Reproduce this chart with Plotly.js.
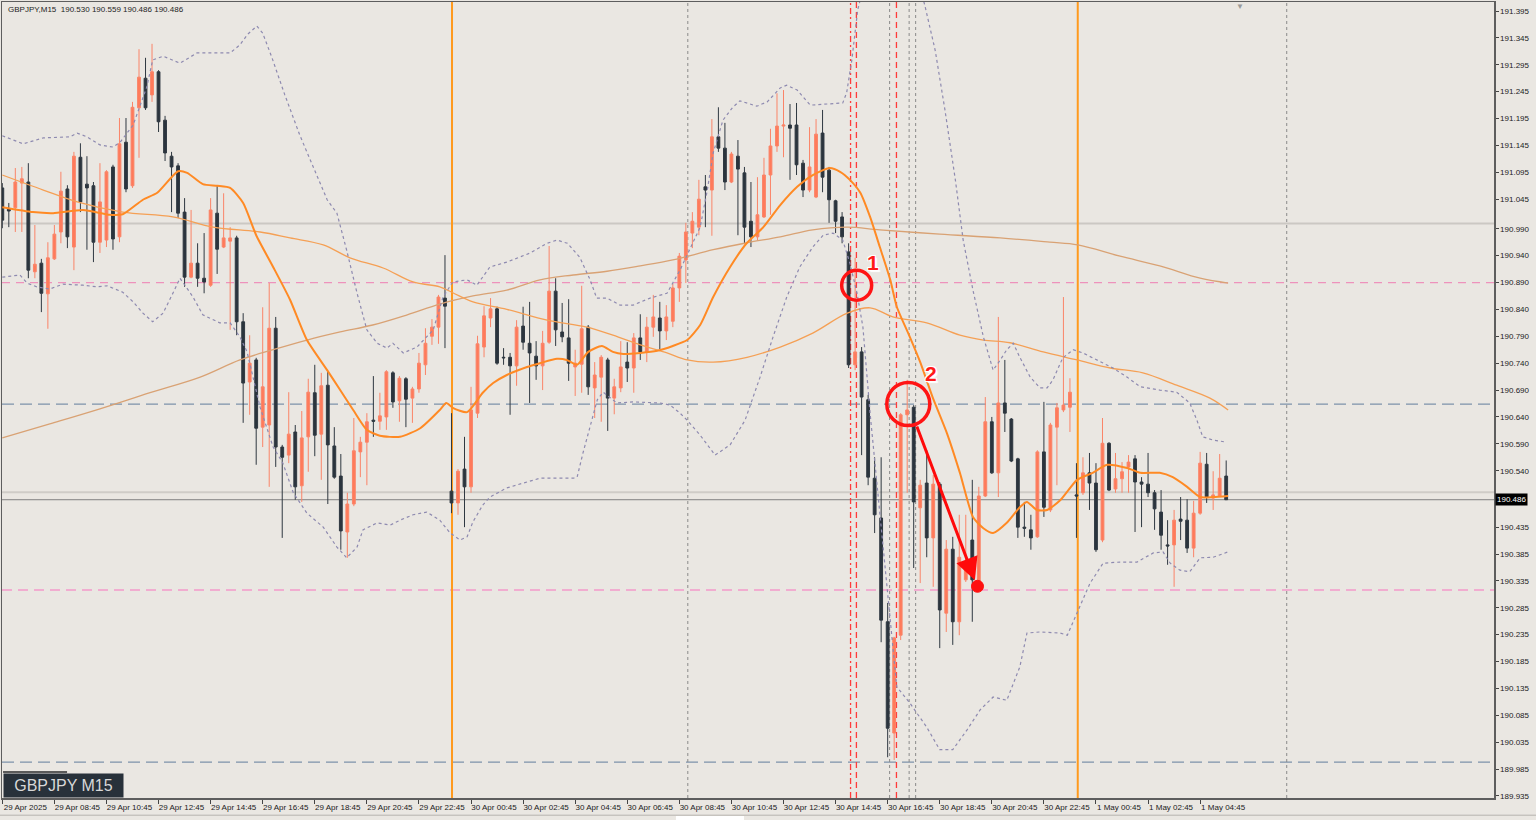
<!DOCTYPE html>
<html>
<head>
<meta charset="utf-8">
<script src="https://cdn.plot.ly/plotly-3.0.1.min.js"></script>
<style>
html,body{margin:0;padding:0;background:#EAE7E2;}
#chart{width:1536px;height:820px;}
</style>
</head>
<body>
<div id="chart"></div>
<script>
// ---- Data (GBPJPY M15) ----
const symbol = "GBPJPY";
const period = "M15";

const open = [
191.066,191.027,191.029,191.075,191.077,190.910,190.926,190.869,190.934,190.984,
191.064,190.956,191.123,191.073,191.070,190.965,190.969,191.105,190.975,191.151,
191.070,191.215,191.270,191.239,191.282,191.192,191.125,191.107,191.021,190.900,
190.926,190.898,190.885,191.019,190.956,190.967,190.973,190.817,190.705,190.746,
190.621,190.625,190.805,190.584,190.569,190.612,190.512,190.603,190.685,190.608,
190.699,190.586,190.530,190.426,190.478,190.575,190.593,190.634,190.632,190.640,
190.722,190.670,190.711,190.675,190.692,190.737,190.790,190.807,190.861,190.502,
190.480,190.543,190.510,190.647,190.770,190.824,190.841,190.751,190.751,190.735,
190.809,190.777,190.753,190.735,190.779,190.874,190.798,190.787,190.733,190.738,
190.807,190.694,190.714,190.746,190.675,190.694,190.742,190.731,190.787,190.761,
190.807,190.824,190.800,190.818,190.880,190.932,190.982,190.993,191.068,191.062,
191.161,191.140,191.077,191.125,191.094,191.004,190.975,191.012,191.090,191.144,
191.181,191.183,191.183,191.112,191.062,191.049,191.168,191.099,191.042,191.012,
190.947,190.737,190.761,190.672,190.526,190.452,190.259,190.052,190.234,190.644,
190.658,190.471,190.517,190.415,190.515,190.275,190.394,190.259,190.337,190.411,
190.324,190.493,190.631,190.536,190.666,190.636,190.562,190.435,190.430,190.417,
190.575,190.467,190.621,190.653,190.658,190.495,190.499,190.536,190.517,190.411,
190.591,190.506,190.525,190.547,190.562,190.519,190.515,190.499,190.463,190.402,
190.402,190.450,190.448,190.396,190.461,190.552,190.489,190.493,190.530];

const high = [
191.075,191.038,191.103,191.105,191.112,190.997,190.934,190.965,190.997,191.096,
191.071,191.133,191.149,191.125,191.077,191.112,191.099,191.109,191.196,191.196,
191.226,191.324,191.308,191.334,191.285,191.200,191.133,191.112,191.047,191.025,
190.963,190.982,191.047,191.070,191.056,190.993,190.977,190.833,190.792,190.750,
190.844,190.889,190.826,190.588,190.686,190.625,190.651,190.711,190.737,190.722,
190.724,190.621,190.571,190.499,190.638,190.603,190.647,190.716,190.685,190.727,
190.725,190.716,190.714,190.696,190.759,190.805,190.822,190.867,190.941,190.647,
190.543,190.603,190.696,190.791,190.846,190.861,190.845,190.768,190.759,190.820,
190.845,190.854,190.781,190.800,190.958,190.898,190.852,190.859,190.765,190.884,
190.811,190.742,190.755,190.750,190.711,190.781,190.779,190.796,190.831,190.826,
190.867,190.854,190.848,190.889,190.945,191.001,191.021,191.081,191.090,191.194,
191.216,191.187,191.133,191.155,191.105,191.077,191.086,191.122,191.176,191.242,
191.248,191.222,191.224,191.118,191.179,191.194,191.211,191.105,191.044,191.021,
190.963,190.936,190.770,190.681,190.565,190.565,190.294,190.231,190.647,190.709,
190.662,190.523,190.578,190.532,190.519,190.411,190.417,190.458,190.458,190.523,
190.510,190.677,190.640,190.826,190.746,190.638,190.564,190.482,190.458,190.578,
190.668,190.629,190.666,190.863,190.712,190.554,190.565,190.573,190.554,190.638,
190.593,190.573,190.556,190.569,190.569,190.528,190.573,190.504,190.504,190.448,
190.467,190.491,190.487,190.484,190.575,190.573,190.539,190.571,190.559];

const low = [
190.991,190.993,190.984,190.984,190.898,190.898,190.835,190.804,190.932,190.963,
190.954,190.913,191.021,190.951,190.928,190.945,190.956,190.951,190.965,191.058,
191.066,191.122,191.211,191.226,191.170,191.116,191.021,191.010,190.882,190.898,
190.882,190.870,190.882,190.906,190.954,190.802,190.792,190.629,190.644,190.551,
190.584,190.510,190.547,190.415,190.554,190.486,190.482,190.538,190.567,190.523,
190.478,190.525,190.393,190.378,190.474,190.528,190.513,190.603,190.616,190.616,
190.657,190.631,190.621,190.629,190.685,190.718,190.774,190.776,190.768,190.461,
190.458,190.435,190.499,190.638,190.751,190.807,190.737,190.737,190.644,190.698,
190.765,190.666,190.709,190.690,190.776,190.772,190.779,190.707,190.679,190.685,
190.681,190.638,190.631,190.614,190.645,190.686,190.705,190.685,190.746,190.742,
190.789,190.766,190.783,190.807,190.854,190.889,190.954,190.978,190.993,190.977,
191.133,191.062,191.075,190.978,190.963,190.956,190.969,191.010,191.016,191.133,
191.123,191.081,191.090,191.049,191.058,191.047,191.058,191.001,190.982,190.963,
190.731,190.727,190.569,190.513,190.424,190.221,190.007,190.002,190.225,190.499,
190.359,190.331,190.379,190.324,190.210,190.240,190.216,190.234,190.333,190.259,
190.322,190.491,190.534,190.491,190.612,190.556,190.415,190.417,190.393,190.415,
190.454,190.463,190.513,190.649,190.612,190.415,190.495,190.467,190.389,190.407,
190.502,190.499,190.499,190.499,190.426,190.435,190.491,190.430,190.393,190.365,
190.324,190.411,190.387,190.379,190.458,190.480,190.467,190.491,190.486];

const close = [
191.006,191.023,191.077,191.083,190.913,190.924,190.870,190.936,190.980,191.060,
190.975,191.125,191.040,191.066,190.965,191.040,191.096,190.971,191.148,191.064,
191.216,191.272,191.215,191.282,191.189,191.131,191.105,191.019,190.900,190.926,
190.898,190.891,191.025,190.952,190.973,190.973,190.817,190.703,190.740,190.619,
190.696,190.805,190.584,190.565,190.608,190.510,190.601,190.686,190.606,190.698,
190.588,190.528,190.428,190.478,190.577,190.593,190.631,190.632,190.642,190.724,
190.668,190.712,190.673,190.692,190.740,190.777,190.807,190.863,190.846,190.480,
190.539,190.510,190.653,190.776,190.828,190.841,190.740,190.750,190.735,190.807,
190.779,190.759,190.735,190.777,190.874,190.802,190.789,190.740,190.740,190.804,
190.696,190.718,190.751,190.675,190.696,190.733,190.731,190.787,190.761,190.807,
190.826,190.800,190.826,190.880,190.939,190.984,191.004,191.045,191.062,191.161,
191.140,191.077,191.129,191.101,190.993,190.975,191.016,191.090,191.144,191.181,
191.183,191.177,191.109,191.062,191.105,191.166,191.086,191.044,191.004,190.975,
190.737,190.761,190.677,190.528,190.458,190.262,190.061,190.229,190.644,190.653,
190.482,190.513,190.415,190.515,190.281,190.394,190.259,190.379,190.365,190.337,
190.493,190.631,190.536,190.666,190.647,190.558,190.435,190.433,190.415,190.575,
190.472,190.625,190.657,190.662,190.686,190.493,190.536,190.517,190.393,190.591,
190.504,190.525,190.538,190.556,190.519,190.515,190.499,190.469,190.420,190.400,
190.448,190.446,190.396,190.461,190.554,190.491,190.495,190.526,190.486];

// Indicator lines, sampled along the bar index
const ma20X = [0,4.7,7.8,12.4,16.5,18.5,21.6,23.8,27,28.4,30.8,33,35,37,39,41.6,44.2,46.8,49.9,51.9,53.9,56,58,61.1,64.2,67.2,68.2,69.2,71.4,73.8,75.4,77.5,80.6,82.6,85.2,86.7,88.3,90,92.1,93.8,95.4,98,100.6,103,105.2,107.2,109.2,111.8,114.4,116.9,119.5,122.1,124.5,127.1,128.7,130.2,131.8,133.3,134.8,136.4,137.4,139.4,141,142.9,145.1,147.1,149.1,150.7,152.2,154.3,156.3,157.4,158.9,160.5,162.5,165.1,167.5,169.7,172.8,174.8,177.8,179.8,182,184,186,188.3];
const ma20Y = [191.030,191.021,191.019,191.025,191.016,191.017,191.044,191.057,191.097,191.094,191.073,191.070,191.066,191.038,190.978,190.919,190.858,190.783,190.727,190.690,190.653,190.616,190.605,190.603,190.619,190.653,190.666,190.657,190.649,190.685,190.703,190.718,190.733,190.740,190.748,190.746,190.737,190.761,190.772,190.761,190.757,190.759,190.763,190.772,190.783,190.811,190.863,190.919,190.964,190.993,191.034,191.068,191.090,191.103,191.096,191.081,191.057,191.012,190.956,190.895,190.845,190.789,190.742,190.677,190.610,190.536,190.454,190.433,190.424,190.443,190.472,190.482,190.467,190.467,190.485,190.523,190.536,190.551,190.545,190.536,190.536,190.528,190.510,190.491,190.491,190.493];

const ma75X = [0,6.3,11.5,18.5,26.2,32.4,39.6,44.2,49.3,53.4,58.5,63.1,67.2,69.2,72.3,77.5,83.7,89.8,93.8,98,102.1,105.2,109.2,114.4,119.5,124.5,129.8,133.3,136.8,142,147.1,150.7,154.8,159.9,165.1,170.2,175.2,180.4,185.5,188.3];
const ma75Y = [191.090,191.062,191.040,191.021,191.012,190.993,190.984,190.973,190.960,190.936,190.917,190.891,190.882,190.871,190.854,190.840,190.820,190.807,190.792,190.774,190.759,190.746,190.742,190.751,190.770,190.796,190.833,190.843,190.826,190.815,190.792,190.783,190.778,190.761,190.746,190.731,190.722,190.699,190.675,190.653];

const ma200X = [0,7.3,15,22.7,30.4,36.5,41.6,46.8,51.9,56.9,62.2,67.2,72.3,77.5,82.6,87.7,92.9,98,103,109.2,114.4,119.5,124.5,129.8,134.8,144,153.3,160.9,165.2,171.7,177.8,184,188.3];
const ma200Y = [190.601,190.627,190.655,190.685,190.714,190.746,190.765,190.783,190.798,190.811,190.830,190.850,190.865,190.876,190.895,190.904,190.911,190.921,190.932,190.951,190.964,190.975,190.988,190.993,190.988,190.980,190.973,190.965,190.960,190.939,190.921,190.898,190.889];

const bbUpX = [0,3.2,6.3,10.4,11.5,13,15,17,18.1,20.1,22.2,23.1,24.7,27.3,29.9,35,36.5,37.7,39.1,40,41.4,43.4,45.7,48,49.9,51.4,52.9,54.5,56,57.6,59.1,60,61.6,63.7,66.2,67.7,69.2,71.4,72.9,74.9,77.5,81.1,83.7,85.2,86.8,88.7,90.3,91.3,92.9,94.9,96.9,99.5,102.1,104.1,105.3,107.2,108.3,109.2,110.7,112.2,113.3,115.9,117.5,119.5,120.5,122.1,124.1,126.1,129.1,129.7,130.5,131.4,133.3,136.4,139.4,141.7,143.3,144.8,146.4,147.6,149.1,150.7,152.2,153.3,154.3,155.3,156.3,157.9,159.4,160.5,161.4,162.9,164.5,166,168.2,170.6,172.8,174.8,177.8,180.4,182.4,183.5,184.4,186,188.1];
const bbUpY = [191.163,191.148,191.159,191.161,191.168,191.161,191.146,191.142,191.151,191.183,191.254,191.304,191.311,191.298,191.317,191.317,191.332,191.352,191.367,191.354,191.309,191.239,191.164,191.099,191.044,191.019,190.950,190.870,190.802,190.777,190.768,190.777,190.759,190.770,190.802,190.863,190.891,190.895,190.885,190.919,190.928,190.945,190.963,190.969,190.963,190.937,190.895,190.861,190.861,190.848,190.848,190.861,190.870,190.913,190.945,190.993,191.062,191.131,191.192,191.216,191.228,191.218,191.226,191.252,191.257,191.248,191.220,191.222,191.224,191.243,191.304,191.397,191.490,191.546,191.508,191.406,191.322,191.211,191.081,190.969,190.876,190.789,190.727,190.746,190.765,190.777,190.751,190.714,190.694,190.694,190.709,190.750,190.765,190.759,190.746,190.731,190.714,190.696,190.690,190.686,190.666,190.634,190.603,190.597,190.593];

const bbLoX = [0,2.7,3.8,5.3,7.3,9.3,12.4,14.5,16.1,18.5,20.1,21.6,23.1,24.7,26.2,27.3,29.3,30.8,33.4,35,36.5,37.6,39.6,41.6,43.1,44.7,46.8,49.3,51.4,52.9,54.5,55.4,57.6,59.6,61.1,63.1,65.2,67.2,68.8,70.3,71.4,72.3,73.8,74.9,77.5,80,82.6,87.7,88.3,89.2,90.3,91.4,92.3,94.4,96.9,101,102.6,104.1,105.2,107.2,109.5,111.8,114.1,116.4,118.4,120.5,122.5,124.5,126.1,127.6,129.1,130.2,131.3,132.2,133.3,134.8,136.4,137.4,139.4,142,144,146,148.2,150.2,152.2,154.3,156.3,157.4,159.4,162.5,163.6,165.1,167.1,169.1,171.7,174.3,176.8,178.3,179.4,180.9,182.4,184,186,188.3];
const bbLoY = [190.900,190.904,190.889,190.882,190.878,190.887,190.885,190.882,190.884,190.872,190.854,190.833,190.817,190.833,190.870,190.898,190.863,190.830,190.815,190.815,190.789,190.761,190.658,190.584,190.554,190.499,190.461,190.435,190.398,190.378,190.398,190.430,190.443,190.439,190.448,190.458,190.463,190.448,190.424,190.411,190.417,190.445,190.476,190.491,190.508,190.517,190.526,190.526,190.528,190.573,190.621,190.672,190.686,190.666,190.668,190.666,190.662,190.647,190.634,190.606,190.569,190.588,190.634,190.714,190.789,190.863,190.919,190.956,190.978,190.982,190.969,190.926,190.870,190.807,190.647,190.461,190.275,190.138,190.108,190.063,190.021,190.021,190.058,190.095,190.119,190.113,190.175,190.238,190.240,190.238,190.234,190.275,190.331,190.368,190.370,190.370,190.387,190.389,190.368,190.355,190.352,190.378,190.379,190.389];

// Axis ticks
const xTickVals = [0,8,16,24,32,40,48,56,64,72,80,88,96,104,112,120,128,136,144,152,160,168,176,184];
const xTickText = ["29 Apr 2025","29 Apr 08:45","29 Apr 10:45","29 Apr 12:45","29 Apr 14:45","29 Apr 16:45","29 Apr 18:45","29 Apr 20:45","29 Apr 22:45","30 Apr 00:45","30 Apr 02:45","30 Apr 04:45","30 Apr 06:45","30 Apr 08:45","30 Apr 10:45","30 Apr 12:45","30 Apr 14:45","30 Apr 16:45","30 Apr 18:45","30 Apr 20:45","30 Apr 22:45","1 May 00:45","1 May 02:45","1 May 04:45"];
const yTickVals = [191.395,191.345,191.295,191.245,191.195,191.145,191.095,191.045,190.990,190.940,190.890,190.840,190.790,190.740,190.690,190.640,190.590,190.540,190.435,190.385,190.335,190.285,190.235,190.185,190.135,190.085,190.035,189.985,189.935];

// Horizontal / vertical drawing objects
const levelLines = [
  {price:191.000, color:'#CBC8C3', width:2, dash:'solid'},
  {price:190.500, color:'#CFCCC7', width:2, dash:'solid'},
  {price:190.486, color:'#808080', width:1, dash:'solid'},
  {price:190.890, color:'#EE92BC', width:1.2, dash:'8px,6px'},
  {price:190.664, color:'#7D93AA', width:1.2, dash:'12px,6px'},
  {price:190.318, color:'#F39ACA', width:1.5, dash:'10px,6px'},
  {price:189.998, color:'#7D93AA', width:1.2, dash:'12px,6px'}
];
const vLines = [
  {bar:69.08, color:'#FF9A1E', width:2, dash:'solid'},
  {bar:165.2, color:'#FF9A1E', width:2, dash:'solid'},
  {bar:105.3, color:'#8A8A8A', width:1, dash:'dot'},
  {bar:136.3, color:'#8A8A8A', width:1, dash:'dot'},
  {bar:139.3, color:'#8A8A8A', width:1, dash:'dot'},
  {bar:140.3, color:'#8A8A8A', width:1, dash:'dot'},
  {bar:197.3, color:'#8A8A8A', width:1, dash:'dot'},
  {bar:130.3, color:'#FF3B3B', width:1.3, dash:'6px,3px,2px,3px'},
  {bar:131.2, color:'#FF3B3B', width:1.3, dash:'6px,4px'},
  {bar:137.35, color:'#FF3B3B', width:1.3, dash:'6px,4px'}
];

const idx = open.map((_, i) => i);
const last = open.length - 1;

const traces = [
  {type:'scatter', mode:'lines', x:ma200X, y:ma200Y, line:{color:'#D9A274', width:1.3, shape:'spline'}, hoverinfo:'skip'},
  {type:'scatter', mode:'lines', x:ma75X, y:ma75Y, line:{color:'#F5A055', width:1.3, shape:'spline'}, hoverinfo:'skip'},
  {type:'scatter', mode:'lines', x:bbUpX, y:bbUpY, line:{color:'#8E8AB0', width:1.2, dash:'dot'}, hoverinfo:'skip'},
  {type:'scatter', mode:'lines', x:bbLoX, y:bbLoY, line:{color:'#8E8AB0', width:1.2, dash:'dot'}, hoverinfo:'skip'},
  {type:'candlestick', x:idx, open:open, high:high, low:low, close:close,
   increasing:{line:{color:'#FA8468', width:1}, fillcolor:'#FF7A5A'},
   decreasing:{line:{color:'#2F3841', width:1}, fillcolor:'#2B343D'},
   whiskerwidth:0, hoverinfo:'skip'},
  {type:'scatter', mode:'lines', x:ma20X, y:ma20Y, line:{color:'#FF8A24', width:2, shape:'spline', smoothing:0.6}, hoverinfo:'skip'}
];

const shapes = [];
levelLines.forEach(l => shapes.push({type:'line', xref:'paper', x0:0, x1:1, yref:'y', y0:l.price, y1:l.price, layer:'below', line:{color:l.color, width:l.width, dash:l.dash}}));
vLines.forEach(v => shapes.push({type:'line', xref:'x', x0:v.bar, x1:v.bar, yref:'paper', y0:0, y1:1, layer:'below', line:{color:v.color, width:v.width, dash:v.dash}}));
// marked circles (pixel-sized so they stay round)
shapes.push({type:'circle', xref:'x', yref:'y', xsizemode:'pixel', ysizemode:'pixel', xanchor:131.24, yanchor:190.885, x0:-15, x1:15, y0:-15, y1:15, line:{color:'#FF1414', width:3.5}});
shapes.push({type:'circle', xref:'x', yref:'y', xsizemode:'pixel', ysizemode:'pixel', xanchor:139.17, yanchor:190.664, x0:-21.5, x1:21.5, y0:-21.5, y1:21.5, line:{color:'#FF1414', width:3.5}});
shapes.push({type:'circle', xref:'x', yref:'y', xsizemode:'pixel', ysizemode:'pixel', xanchor:149.8, yanchor:190.325, x0:-6, x1:6, y0:-6, y1:6, fillcolor:'#FF1010', line:{color:'#FF1010', width:1}});
// bottom-left decoration line and lower strip
shapes.push({type:'line', xref:'paper', yref:'paper', x0:0.0007, x1:0.0436, y0:0.0327, y1:0.0327, line:{color:'#5A5A5A', width:2}});
shapes.push({type:'line', xref:'paper', yref:'paper', x0:-0.01, x1:1.03, y0:-0.0216, y1:-0.0216, line:{color:'#B5B3AE', width:1}});
shapes.push({type:'rect', xref:'paper', yref:'paper', x0:0.4517, x1:0.4973, y0:-0.029, y1:-0.0226, fillcolor:'#FFFFFF', line:{width:0}});

const outline = '1px 1px 0 #fff, -1px -1px 0 #fff, 1px -1px 0 #fff, -1px 1px 0 #fff, 2px 2px 1px #fff';
const annotations = [
  {xref:'paper', yref:'paper', x:0, y:1, xanchor:'left', yanchor:'top', xshift:4, yshift:-1, showarrow:false,
   text: symbol + ',' + period + '  ' + [open[last], high[last], low[last], close[last]].map(v => v.toFixed(3)).join(' '),
   font:{family:'Liberation Sans, Arial, sans-serif', size:8, color:'#1E1E1E'}},
  {xref:'x', yref:'y', x:133.7, y:190.928, text:'1', showarrow:false, font:{family:'Liberation Sans, Arial, sans-serif', size:21, weight:'bold', color:'#FF1A1A', shadow:outline}},
  {xref:'x', yref:'y', x:142.6, y:190.720, text:'2', showarrow:false, font:{family:'Liberation Sans, Arial, sans-serif', size:21, weight:'bold', color:'#FF1A1A', shadow:outline}},
  {xref:'x', yref:'y', axref:'x', ayref:'y', x:149.4, y:190.336, ax:140.4, ay:190.625, text:'', showarrow:true, arrowhead:2, arrowsize:1.5, arrowwidth:3, arrowcolor:'#FF0A0A', standoff:0, startstandoff:0},
  {xref:'paper', yref:'paper', x:0, y:0, xanchor:'left', yanchor:'bottom', xshift:1, yshift:0, showarrow:false,
   text: symbol + ' ' + period, bgcolor:'#28313A', width:115, height:19, borderpad:2,
   font:{family:'Liberation Sans, Arial, sans-serif', size:16, color:'#D8D8D8'}},
  {xref:'paper', yref:'y', x:1, y:close[last], xanchor:'left', yanchor:'middle', xshift:1, showarrow:false,
   text: close[last].toFixed(3), bgcolor:'#000000', borderpad:1,
   font:{family:'Liberation Sans, Arial, sans-serif', size:8, color:'#FFFFFF'}},
  {xref:'x', yref:'paper', x:190.1, y:1, xanchor:'center', yanchor:'top', yshift:2, showarrow:false, text:'▼',
   font:{size:8, color:'#9A9A9A'}}
];

const layout = {
  width:1536, height:820,
  margin:{l:2, r:42, t:2, b:22, pad:0},
  paper_bgcolor:'#EAE7E2', plot_bgcolor:'#EAE7E2',
  showlegend:false,
  boxgap:0.38,
  hovermode:false,
  font:{family:'Liberation Sans, Arial, sans-serif', size:8, color:'#222'},
  xaxis:{
    range:[-0.046, 229.14], showgrid:false, zeroline:false,
    rangeslider:{visible:false},
    tickmode:'array', tickvals:xTickVals, ticktext:xTickText,
    ticks:'outside', ticklen:4, tickcolor:'#444', tickwidth:1,
    ticklabelshift:23, ticklabelstandoff:-3,
    tickfont:{family:'Liberation Sans, Arial, sans-serif', size:8, color:'#222'},
    showline:true, linecolor:'#5E5E5E', linewidth:1.5, mirror:true, fixedrange:true
  },
  yaxis:{
    range:[189.9312, 191.4118], side:'right', showgrid:false, zeroline:false,
    tickmode:'array', tickvals:yTickVals, ticktext:yTickVals.map(v => v.toFixed(3)),
    ticks:'outside', ticklen:3, tickcolor:'#444', tickwidth:1,
    tickfont:{family:'Liberation Sans, Arial, sans-serif', size:8, color:'#222'},
    showline:true, linecolor:'#5E5E5E', linewidth:1.5, mirror:true, fixedrange:true
  },
  shapes:shapes,
  annotations:annotations
};

Plotly.newPlot('chart', traces, layout, {displayModeBar:false, staticPlot:true});
</script>
</body>
</html>
